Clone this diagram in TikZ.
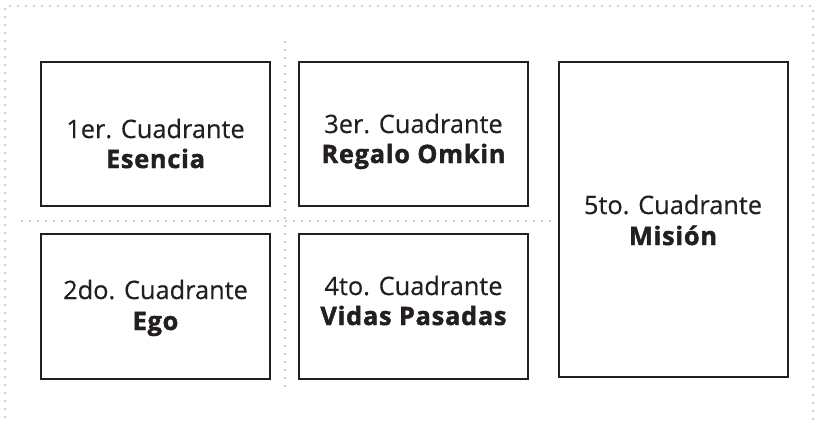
\documentclass[tikz,border=0pt]{standalone}
\usepackage{fontspec}
\setmainfont{Open Sans}[UprightFeatures={FakeBold=0.4},BoldFeatures={FakeBold=1.6,LetterSpace=3}]
\definecolor{ink}{HTML}{231F20}
\definecolor{dotc}{HTML}{9A9A9A}
\begin{document}
\begin{tikzpicture}[x=0.75pt,y=-0.75pt,
  quad/.style={draw=ink,line width=1.5pt,rectangle,inner sep=0pt},
  dotline/.style={draw=dotc,line width=1.4pt,line cap=round,dash pattern=on 0pt off 6pt},
  ttl/.style={anchor=base,inner sep=0pt,text=ink,font=\fontsize{19pt}{22pt}\selectfont},
  nme/.style={anchor=base,inner sep=0pt,text=ink,font=\fontsize{19pt}{22pt}\selectfont\bfseries}]
\useasboundingbox (0,0) rectangle (815,426);
% dotted frame
\coordinate (fbl) at (5,417);
\coordinate (ftl) at (5,6);
\coordinate (ftr) at (813,6);
\coordinate (fbr) at (813,426);
\draw[dotline] (fbl) -- (ftl) -- (ftr) -- (fbr);
% dotted dividers
\coordinate (vt) at (285,42);
\coordinate (vb) at (285,393);
\coordinate (hl) at (22,221);
\coordinate (hr) at (550,221);
\draw[dotline] (vt) -- (vb);
\draw[dotline] (hl) -- (hr);
% boxes
\node[quad,minimum width=229*0.75pt,minimum height=144*0.75pt] (b1) at (155.5,134) {};
\node[quad,minimum width=229*0.75pt,minimum height=145*0.75pt] (b2) at (155.5,306.5) {};
\node[quad,minimum width=229*0.75pt,minimum height=144*0.75pt] (b3) at (413.5,134) {};
\node[quad,minimum width=229*0.75pt,minimum height=145*0.75pt] (b4) at (413.5,306.5) {};
\node[quad,minimum width=229*0.75pt,minimum height=315*0.75pt] (b5) at (673,219.5) {};
% texts
\node[ttl] (t1) at (155.5,138) {1er. Cuadrante};
\node[nme] (n1) at (155.5,168) {Esencia};
\node[ttl] (t2) at (155.5,299) {2do. Cuadrante};
\node[nme] (n2) at (155.5,330) {Ego};
\node[ttl] (t3) at (413.5,133) {3er. Cuadrante};
\node[nme] (n3) at (413.5,163) {Regalo Omkin};
\node[ttl] (t4) at (413.5,295) {4to. Cuadrante};
\node[nme] (n4) at (413.5,325) {Vidas Pasadas};
\node[ttl] (t5) at (673,214) {5to. Cuadrante};
\node[nme] (n5) at (673,245) {Misión};
\end{tikzpicture}
\end{document}
